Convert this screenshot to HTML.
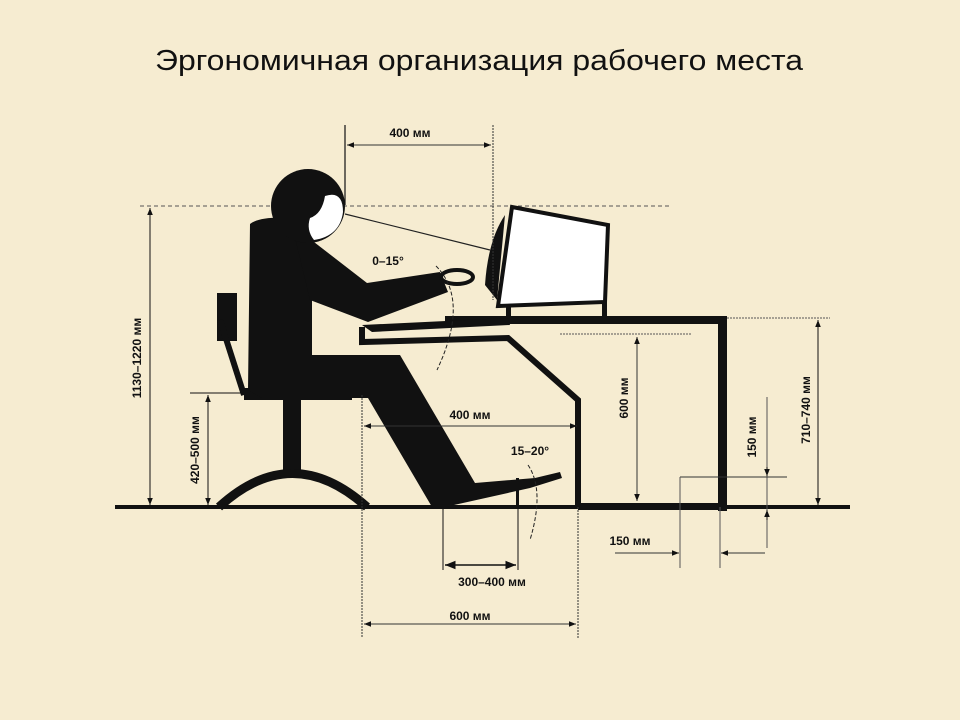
<!DOCTYPE html>
<html><head><meta charset="utf-8"><style>
html,body{margin:0;padding:0;background:#f6ecd1;}
svg{display:block}
text{font-family:"Liberation Sans",sans-serif;font-weight:bold;fill:#111}
</style></head><body>
<svg width="960" height="720" viewBox="0 0 960 720" xmlns="http://www.w3.org/2000/svg">
<defs>
<marker id="a" viewBox="0 0 10 10" refX="10" refY="5" markerWidth="7" markerHeight="7" orient="auto-start-reverse"><path d="M0,1 L10,5 L0,9 Z" fill="#111"/></marker>
</defs>
<rect width="960" height="720" fill="#f6ecd1"/>
<text x="155" y="70" textLength="648" lengthAdjust="spacingAndGlyphs" style="font-weight:normal;font-size:29px">Эргономичная организация рабочего места</text>

<line x1="140" y1="206" x2="670" y2="206" stroke="#555" stroke-width="1" stroke-dasharray="4,3"/>
<line x1="345" y1="214" x2="490" y2="250" stroke="#222" stroke-width="1.2"/>

<rect x="115" y="505" width="735" height="4" fill="#111"/>

<path d="M217,293 h20 v48 h-20 z" fill="#111"/>
<path d="M220,320 L244,395" stroke="#111" stroke-width="6"/>
<rect x="244" y="388" width="108" height="12" fill="#111"/>
<rect x="283" y="398" width="18" height="72" fill="#111"/>
<path d="M219,507 Q292,440 367,507" fill="none" stroke="#111" stroke-width="9"/>

<path d="M250,224 Q260,216 292,218 L305,230 L312,300 L312,355 L400,355 L475,483 L535,478 L560,472 L562,478 L530,488 L445,507 L432,507 L368,398 L262,398 L248,390 Z" fill="#111"/>
<path d="M292,225 L367,283 L440,272 L448,292 L368,322 L310,300 Z" fill="#111"/>
<ellipse cx="457" cy="277" rx="16" ry="7" fill="none" stroke="#111" stroke-width="4"/>
<circle cx="308" cy="206" r="37" fill="#111"/>
<path d="M325,196 Q343,190 343,212 Q340,236 314,240 Q306,230 310,218 Q322,214 325,196 Z" fill="#fff"/>

<rect x="445" y="316" width="282" height="8" fill="#111"/>
<rect x="718" y="316" width="9" height="195" fill="#111"/>
<rect x="578" y="503" width="149" height="7" fill="#111"/>
<path d="M362,325 L508,318 L510,325 L372,332 Z" fill="#111"/>
<path d="M362,327 L362,342 L508,338 L578,400 L578,507" fill="none" stroke="#111" stroke-width="6"/>

<path d="M512,207 L608,225 L605,302 L498,306 Z" fill="#fff" stroke="#111" stroke-width="4"/>
<path d="M505,215 Q488,240 485,285 L497,300 Z" fill="#111"/>
<rect x="506" y="304" width="5" height="14" fill="#111"/>
<rect x="602" y="302" width="5" height="16" fill="#111"/>

<line x1="345" y1="125" x2="345" y2="205" stroke="#111" stroke-width="1.2"/>
<line x1="493" y1="125" x2="493" y2="300" stroke="#333" stroke-width="1" stroke-dasharray="2,1"/>
<line x1="347" y1="145" x2="491" y2="145" stroke="#333" stroke-width="1" marker-start="url(#a)" marker-end="url(#a)"/>
<text x="410" y="137" font-size="12" text-anchor="middle">400 мм</text>

<text x="388" y="265" font-size="12" text-anchor="middle">0–15°</text>
<path d="M436,266 Q470,300 437,370" fill="none" stroke="#222" stroke-width="1" stroke-dasharray="4,2"/>

<line x1="150" y1="208" x2="150" y2="505" stroke="#111" stroke-width="1" marker-start="url(#a)" marker-end="url(#a)"/>
<text transform="translate(141,358) rotate(-90)" font-size="12" text-anchor="middle">1130–1220 мм</text>
<line x1="190" y1="393" x2="245" y2="393" stroke="#111" stroke-width="1"/>
<line x1="208" y1="395" x2="208" y2="505" stroke="#111" stroke-width="1" marker-start="url(#a)" marker-end="url(#a)"/>
<text transform="translate(199,450) rotate(-90)" font-size="12" text-anchor="middle">420–500 мм</text>

<line x1="362" y1="395" x2="362" y2="638" stroke="#333" stroke-width="1" stroke-dasharray="2,1"/>
<line x1="364" y1="426" x2="577" y2="426" stroke="#333" stroke-width="1" marker-start="url(#a)" marker-end="url(#a)"/>
<text x="470" y="419" font-size="12" text-anchor="middle">400 мм</text>

<text x="530" y="455" font-size="12" text-anchor="middle">15–20°</text>
<path d="M528,465 Q545,490 530,540" fill="none" stroke="#222" stroke-width="1" stroke-dasharray="4,2"/>
<rect x="516" y="478" width="3" height="29" fill="#111"/>

<line x1="443" y1="507" x2="443" y2="570" stroke="#111" stroke-width="1"/>
<line x1="518" y1="507" x2="518" y2="570" stroke="#111" stroke-width="1"/>
<line x1="445" y1="565" x2="516" y2="565" stroke="#111" stroke-width="1.5" marker-start="url(#a)" marker-end="url(#a)"/>
<text x="492" y="586" font-size="12" text-anchor="middle">300–400 мм</text>

<line x1="578" y1="507" x2="578" y2="638" stroke="#333" stroke-width="1" stroke-dasharray="2,1"/>
<line x1="364" y1="624" x2="576" y2="624" stroke="#333" stroke-width="1" marker-start="url(#a)" marker-end="url(#a)"/>
<text x="470" y="620" font-size="12" text-anchor="middle">600 мм</text>

<line x1="560" y1="334" x2="692" y2="334" stroke="#555" stroke-width="1" stroke-dasharray="2,1"/>
<line x1="637" y1="337" x2="637" y2="501" stroke="#333" stroke-width="1" marker-start="url(#a)" marker-end="url(#a)"/>
<text transform="translate(628,398) rotate(-90)" font-size="12" text-anchor="middle">600 мм</text>

<line x1="727" y1="318" x2="830" y2="318" stroke="#555" stroke-width="1" stroke-dasharray="2,1"/>
<line x1="818" y1="320" x2="818" y2="505" stroke="#111" stroke-width="1" marker-start="url(#a)" marker-end="url(#a)"/>
<text transform="translate(810,410) rotate(-90)" font-size="12" text-anchor="middle">710–740 мм</text>

<line x1="767" y1="397" x2="767" y2="548" stroke="#555" stroke-width="1"/>
<line x1="680" y1="477" x2="787" y2="477" stroke="#333" stroke-width="1"/>
<line x1="767" y1="467" x2="767" y2="476" stroke="#111" stroke-width="1" marker-end="url(#a)"/>
<line x1="767" y1="520" x2="767" y2="510" stroke="#111" stroke-width="1" marker-end="url(#a)"/>
<line x1="680" y1="477" x2="680" y2="568" stroke="#555" stroke-width="1"/>
<line x1="720" y1="507" x2="720" y2="568" stroke="#555" stroke-width="1"/>
<text transform="translate(756,437) rotate(-90)" font-size="12" text-anchor="middle">150 мм</text>

<line x1="615" y1="553" x2="679" y2="553" stroke="#333" stroke-width="1" marker-end="url(#a)"/>
<line x1="765" y1="553" x2="721" y2="553" stroke="#333" stroke-width="1" marker-end="url(#a)"/>
<text x="630" y="545" font-size="12" text-anchor="middle">150 мм</text>
</svg>
</body></html>
